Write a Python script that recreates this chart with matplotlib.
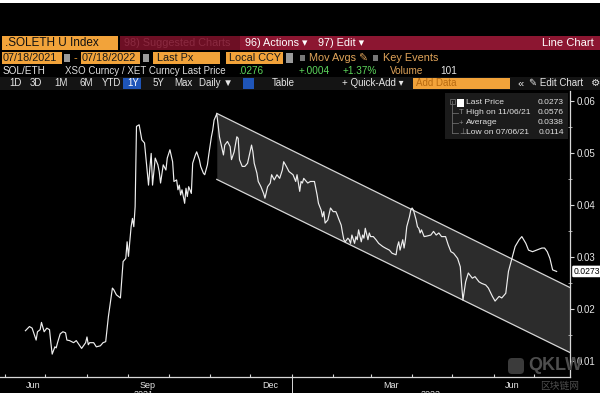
import pandas as pd
import matplotlib.pyplot as plt
import matplotlib.dates as mdates
import matplotlib.transforms as mtransforms
from matplotlib.patches import Rectangle, FancyBboxPatch
from matplotlib.ticker import NullFormatter

plt.rcParams['font.family'] = ['Liberation Sans', 'DejaVu Sans']

# SOL/ETH daily closes
dates = [
    '2021-06-16', '2021-06-19', '2021-06-21', '2021-06-24', '2021-06-25', '2021-06-27', '2021-06-28', '2021-06-30',
    '2021-07-02', '2021-07-04', '2021-07-05', '2021-07-06', '2021-07-08', '2021-07-09', '2021-07-10', '2021-07-12',
    '2021-07-14', '2021-07-16', '2021-07-17', '2021-07-19', '2021-07-22', '2021-07-24', '2021-07-28', '2021-07-31',
    '2021-08-01', '2021-08-02', '2021-08-03', '2021-08-06', '2021-08-08', '2021-08-11', '2021-08-13', '2021-08-15',
    '2021-08-17', '2021-08-20', '2021-08-21', '2021-08-23', '2021-08-26', '2021-08-28', '2021-08-30', '2021-08-31',
    '2021-09-01', '2021-09-03', '2021-09-04', '2021-09-05', '2021-09-06', '2021-09-07', '2021-09-09', '2021-09-11',
    '2021-09-13', '2021-09-15', '2021-09-16', '2021-09-17', '2021-09-18', '2021-09-19', '2021-09-20', '2021-09-21',
    '2021-09-23', '2021-09-24', '2021-09-25', '2021-09-27', '2021-09-29', '2021-09-30', '2021-10-02', '2021-10-04',
    '2021-10-05', '2021-10-07', '2021-10-08', '2021-10-09', '2021-10-10', '2021-10-11', '2021-10-13', '2021-10-14',
    '2021-10-15', '2021-10-16', '2021-10-18', '2021-10-19', '2021-10-21', '2021-10-22', '2021-10-24', '2021-10-25',
    '2021-10-27', '2021-10-28', '2021-10-30', '2021-10-31', '2021-11-02', '2021-11-03', '2021-11-04', '2021-11-06',
    '2021-11-07', '2021-11-08', '2021-11-09', '2021-11-11', '2021-11-12', '2021-11-14', '2021-11-16', '2021-11-17',
    '2021-11-19', '2021-11-21', '2021-11-22', '2021-11-23', '2021-11-25', '2021-11-27', '2021-11-29', '2021-12-02',
    '2021-12-03', '2021-12-04', '2021-12-06', '2021-12-07', '2021-12-09', '2021-12-11', '2021-12-12', '2021-12-14',
    '2021-12-16', '2021-12-17', '2021-12-19', '2021-12-21', '2021-12-23', '2021-12-25', '2021-12-26', '2021-12-28',
    '2021-12-30', '2022-01-02', '2022-01-04', '2022-01-05', '2022-01-07', '2022-01-08', '2022-01-09', '2022-01-10',
    '2022-01-13', '2022-01-15', '2022-01-18', '2022-01-20', '2022-01-21', '2022-01-23', '2022-01-24', '2022-01-25',
    '2022-01-26', '2022-01-28', '2022-01-30', '2022-02-01', '2022-02-03', '2022-02-04', '2022-02-05', '2022-02-07',
    '2022-02-08', '2022-02-09', '2022-02-10', '2022-02-12', '2022-02-13', '2022-02-14', '2022-02-15', '2022-02-17',
    '2022-02-18', '2022-02-19', '2022-02-20', '2022-02-22', '2022-02-23', '2022-02-24', '2022-02-25', '2022-02-27',
    '2022-02-28', '2022-03-01', '2022-03-03', '2022-03-05', '2022-03-07', '2022-03-10', '2022-03-12', '2022-03-15',
    '2022-03-17', '2022-03-20', '2022-03-21', '2022-03-22', '2022-03-23', '2022-03-25', '2022-03-26', '2022-03-27',
    '2022-03-28', '2022-03-30', '2022-03-31', '2022-04-01', '2022-04-02', '2022-04-04', '2022-04-05', '2022-04-06',
    '2022-04-07', '2022-04-08', '2022-04-10', '2022-04-12', '2022-04-15', '2022-04-17', '2022-04-19', '2022-04-21',
    '2022-04-23', '2022-04-26', '2022-04-28', '2022-04-30', '2022-05-02', '2022-05-05', '2022-05-07', '2022-05-08',
    '2022-05-09', '2022-05-11', '2022-05-13', '2022-05-16', '2022-05-18', '2022-05-21', '2022-05-23', '2022-05-26',
    '2022-05-28', '2022-05-31', '2022-06-02', '2022-06-05', '2022-06-07', '2022-06-10', '2022-06-12', '2022-06-15',
    '2022-06-17', '2022-06-20', '2022-06-22', '2022-06-25', '2022-06-27', '2022-06-30', '2022-07-03', '2022-07-07',
    '2022-07-09', '2022-07-11', '2022-07-13', '2022-07-15', '2022-07-18',
]
values = [
    0.0159, 0.0167, 0.0164, 0.0141, 0.0157, 0.0161, 0.0175, 0.0157,
    0.0164, 0.0161, 0.0136, 0.0114, 0.0128, 0.0126, 0.0136, 0.0153,
    0.0157, 0.0155, 0.0141, 0.0140, 0.0136, 0.0140, 0.0125, 0.0136,
    0.0147, 0.0132, 0.0136, 0.0136, 0.0128, 0.0130, 0.0136, 0.0138,
    0.0186, 0.0241, 0.0238, 0.0228, 0.0222, 0.0292, 0.0298, 0.0330,
    0.0302, 0.0359, 0.0375, 0.0359, 0.0398, 0.0552, 0.0555, 0.0526,
    0.0520, 0.0465, 0.0439, 0.0472, 0.0500, 0.0439, 0.0465, 0.0491,
    0.0478, 0.0465, 0.0443, 0.0478, 0.0468, 0.0491, 0.0507, 0.0484,
    0.0446, 0.0449, 0.0430, 0.0439, 0.0420, 0.0430, 0.0404, 0.0433,
    0.0417, 0.0436, 0.0423, 0.0481, 0.0497, 0.0503, 0.0488, 0.0475,
    0.0462, 0.0459, 0.0478, 0.0497, 0.0532, 0.0545, 0.0564, 0.0576,
    0.0555, 0.0532, 0.0520, 0.0497, 0.0516, 0.0523, 0.0513, 0.0488,
    0.0503, 0.0532, 0.0529, 0.0488, 0.0475, 0.0475, 0.0481, 0.0516,
    0.0503, 0.0481, 0.0462, 0.0446, 0.0436, 0.0423, 0.0414, 0.0436,
    0.0443, 0.0459, 0.0449, 0.0459, 0.0452, 0.0468, 0.0484, 0.0475,
    0.0465, 0.0459, 0.0446, 0.0459, 0.0427, 0.0446, 0.0443, 0.0452,
    0.0443, 0.0446, 0.0446, 0.0420, 0.0404, 0.0391, 0.0378, 0.0388,
    0.0366, 0.0372, 0.0395, 0.0388, 0.0388, 0.0382, 0.0375, 0.0362,
    0.0347, 0.0334, 0.0330, 0.0337, 0.0334, 0.0327, 0.0343, 0.0327,
    0.0340, 0.0334, 0.0353, 0.0330, 0.0343, 0.0337, 0.0356, 0.0334,
    0.0347, 0.0340, 0.0340, 0.0334, 0.0327, 0.0321, 0.0318, 0.0314,
    0.0308, 0.0305, 0.0321, 0.0330, 0.0314, 0.0334, 0.0318, 0.0334,
    0.0359, 0.0378, 0.0391, 0.0395, 0.0391, 0.0372, 0.0359, 0.0356,
    0.0347, 0.0353, 0.0340, 0.0341, 0.0343, 0.0350, 0.0343, 0.0347,
    0.0340, 0.0340, 0.0324, 0.0311, 0.0308, 0.0298, 0.0282, 0.0247,
    0.0218, 0.0253, 0.0270, 0.0260, 0.0263, 0.0253, 0.0250, 0.0247,
    0.0241, 0.0225, 0.0216, 0.0225, 0.0222, 0.0231, 0.0273, 0.0302,
    0.0321, 0.0334, 0.0340, 0.0327, 0.0314, 0.0311, 0.0314, 0.0318,
    0.0318, 0.0311, 0.0298, 0.0276, 0.0273,
]

# descending channel drawn from the Nov high
channel_dates = ['2021-11-06', '2022-07-28']
channel_upper = [0.0577, 0.0242]
channel_lower = [0.0450, 0.0117]

x_range = ['2021-05-28', '2022-07-28']
y_range = [0.0070, 0.0620]
y_ticks = [0.01, 0.02, 0.03, 0.04, 0.05, 0.06]
y_minor = [0.015, 0.025, 0.035, 0.045, 0.055]
month_labels = ['Jun', 'Sep', 'Dec', 'Mar', 'Jun']
month_label_dates = ['2021-06-22', '2021-09-15', '2021-12-16', '2022-03-16', '2022-06-15']
year_labels = ['2021', '2022']
year_label_dates = ['2021-09-12', '2022-04-15']
year_break = '2022-01-01'

legend_names = ['Last Price', 'High on 11/06/21', 'Average', 'Low on 07/06/21']
legend_values = ['0.0273', '0.0576', '0.0338', '0.0114']
last_price = 0.0273

orange = '#f2a33a'
crimson = '#8c1631'
fg = '#e6e6e6'

fig = plt.figure(figsize=(6, 3.93), dpi=100, facecolor='black')

# ---- main chart
ax = fig.add_axes([0, 16 / 393, 570 / 600, 286 / 393], facecolor='black')
x = pd.to_datetime(dates)
cx = pd.to_datetime(channel_dates)
ax.fill_between(cx, channel_lower, channel_upper, color='#2c2c2c', lw=0, zorder=1)
ax.plot(cx, channel_upper, color='#d6d6d6', lw=0.9, zorder=2)
ax.plot(cx, channel_lower, color='#d6d6d6', lw=0.9, zorder=2)
ax.plot(x, values, color='#eeeeee', lw=0.85, zorder=3)

ax.set_xlim(pd.to_datetime(x_range))
ax.set_ylim(y_range)
for s in ['top', 'left']:
    ax.spines[s].set_visible(False)
for s in ['right', 'bottom']:
    ax.spines[s].set_color('#d8d8d8')
    ax.spines[s].set_linewidth(0.9)

ax.yaxis.tick_right()
ax.set_yticks(y_ticks)
ax.set_yticklabels([f'{v:.2f}' for v in y_ticks])
ax.set_yticks(y_minor, minor=True)
ax.tick_params(axis='y', which='major', direction='out', length=3, color='#d8d8d8',
               labelsize=7, labelcolor=fg, pad=1.5)
ax.tick_params(axis='y', which='minor', direction='inout', length=3, color='#bbbbbb')

ax.xaxis.set_major_locator(mdates.MonthLocator())
ax.xaxis.set_major_formatter(NullFormatter())
ax.set_xticks(pd.to_datetime(month_label_dates), minor=True)
ax.set_xticklabels(month_labels, minor=True)
ax.tick_params(axis='x', which='major', direction='in', length=2.5, color='#d8d8d8')
ax.tick_params(axis='x', which='minor', length=0, labelsize=6.5, labelcolor=fg, pad=3)

trans = mtransforms.blended_transform_factory(ax.transData, ax.transAxes)
for d, t in zip(year_label_dates, year_labels):
    ax.text(pd.to_datetime(d), -0.046, t, transform=trans, ha='center', va='top',
            fontsize=6.5, color=fg, clip_on=False)
yb = pd.to_datetime(year_break)
ax.plot([yb, yb], [0, -0.06], transform=trans, color='#d8d8d8', lw=0.7, clip_on=False)

tag_trans = mtransforms.blended_transform_factory(ax.transAxes, ax.transData)
ax.annotate(f'{last_price:.4f}', xy=(1, last_price), xycoords=tag_trans,
            xytext=(2.5, 0), textcoords='offset points', ha='left', va='center',
            fontsize=6.2, color='black', annotation_clip=False,
            bbox=dict(boxstyle='round,pad=0.15', fc='white', ec='none'))

# ---- terminal header and legend overlay (pixel coordinates)
hud = fig.add_axes([0, 0, 1, 1])
hud.set_xlim(0, 600)
hud.set_ylim(393, 0)
hud.axis('off')


def box(x0, y0, w, h, color):
    hud.add_patch(Rectangle((x0, y0), w, h, color=color, lw=0))


def txt(x0, y0, s, color=fg, size=8, ha='left', **kw):
    hud.text(x0, y0, s, color=color, fontsize=size, ha=ha, va='center', **kw)


box(0, 0, 600, 3, 'white')

# row 1
box(2, 36, 116, 14, orange)
box(120, 36, 120, 14, '#6d0f24')
box(240, 36, 360, 14, crimson)
txt(5, 43.5, '.SOLETH U Index', color='#111111', size=8.5)
txt(124, 43.5, '98) Suggested Charts', color='#8a2a40', size=7.8)
txt(245, 43.5, '96) Actions \u25be', size=7.8, color='white')
txt(318, 43.5, '97) Edit \u25be', size=7.8, color='white')
txt(594, 43.5, 'Line Chart', size=8, color='white', ha='right')

# row 2
box(2, 52, 60, 12, orange)
txt(3, 58, '07/18/2021', color='#1a1a1a', size=7.8)
box(64, 54, 6, 8, '#9a9a9a')
txt(74, 58, '-', size=8, color=orange)
box(81, 52, 59, 12, orange)
txt(82, 58, '07/18/2022', color='#1a1a1a', size=7.8)
box(143, 54, 6, 8, '#9a9a9a')
box(153, 52, 67, 12, orange)
txt(157, 58, 'Last Px', color='#1a1a1a', size=7.8)
box(226, 52, 57, 12, orange)
txt(229, 58, 'Local CCY', color='#1a1a1a', size=7.8)
box(286, 53, 7, 10, '#9a9a9a')
box(300, 55, 5, 6, '#777777')
txt(309, 58, 'Mov Avgs \u270e', color='#e0a45a', size=7.8)
box(373, 55, 5, 6, '#777777')
txt(383, 58, 'Key Events', color='#e0a45a', size=7.8)

# row 3
txt(3, 71, 'SOL/ETH', size=7.2)
txt(65, 71, 'XSO Curncy / XET Curncy Last Price', size=7, color='#dcdcdc')
txt(238, 71, '.0276', size=7.2, color='#5cd65c')
txt(299, 71, '+.0004', size=7.2, color='#5cd65c')
txt(343, 71, '+1.37%', size=7.2, color='#5cd65c')
txt(390, 71, 'Volume', size=7.2, color='#e0a45a')
txt(440, 71, '101', size=7.2)

# row 4
box(0, 77, 600, 13, '#141414')
for bx, lab in zip([9, 30, 54, 79, 102, 153, 174], ['1D', '3D', '1M', '6M', 'YTD', '5Y', 'Max']):
    txt(bx, 83.5, lab, size=7)
box(123, 78, 18, 11, '#1f55b8')
txt(127, 83.5, '1Y', size=7, color='white')
txt(199, 83.5, 'Daily \u25bc', size=7)
box(243, 78, 11, 11, '#1f55b8')
txt(272, 83.5, 'Table', size=7)
txt(342, 83.5, '+ Quick-Add \u25be', size=7)
box(413, 78, 97, 11, orange)
txt(416, 83.5, 'Add Data', size=7, color='#b86a10')
txt(517, 83.5, '\u00ab', size=8)
txt(529, 83.5, '\u270e Edit Chart', size=7)
txt(591, 83.5, '\u2699', size=7.5)

# legend panel
box(445, 93, 123, 46, '#1b1b1b')
hud.plot([452, 452], [101, 133], color='#6a6a6a', lw=0.6)
hud.add_patch(Rectangle((449.5, 98.5), 5, 5, fill=False, ec='#6a6a6a', lw=0.6))
box(457, 99, 7, 8, 'white')
row_y = [103, 113, 123, 133]
for ry in row_y[1:]:
    hud.plot([452, 458], [ry, ry], color='#6a6a6a', lw=0.6)
txt(459, 113, 'T', size=5.5, color='#8a8a8a')
txt(458.5, 123, '+', size=5.5, color='#8a8a8a')
txt(459, 133, '\u22a5', size=5.5, color='#8a8a8a')
for ry, name, val in zip(row_y, legend_names, legend_values):
    txt(466, ry, name, size=6.1, color='#e0e0e0')
    txt(564, ry, val, size=6.1, color='#e0e0e0', ha='right')

# site watermark
hud.add_patch(FancyBboxPatch((508, 358), 16, 16, boxstyle='round,pad=0,rounding_size=4',
                             fc='#4a4a4a', ec='none', alpha=0.8))
txt(528, 366, 'QKLW', size=13, color='#4e4e4e', fontweight='bold')
txt(540, 386, '区块链网', size=7, color='#4e4e4e',
    family=['Noto Sans CJK SC', 'DejaVu Sans'])

fig.savefig('out.png', dpi=100, facecolor='black')
